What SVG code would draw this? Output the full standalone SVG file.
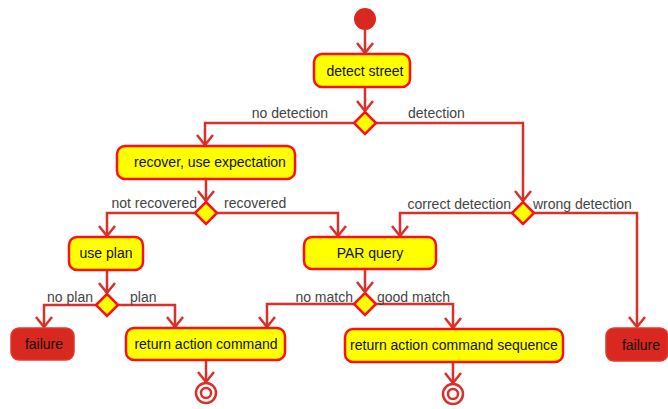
<svg xmlns="http://www.w3.org/2000/svg" width="668" height="409" viewBox="0 0 668 409">
  <defs>
    <marker id="arrow" markerUnits="userSpaceOnUse" markerWidth="24" markerHeight="24" refX="0" refY="0" viewBox="-12 -12 24 24" orient="auto" overflow="visible">
      <path d="M-10,-8 L0,0 L-10,8" fill="none" stroke="#d8302a" stroke-width="2.5" stroke-linejoin="miter"/>
    </marker>
    <style>
      .edge { fill: none; stroke: #d8302a; stroke-width: 2.5; }
      .arr { marker-end: url(#arrow); }
      .action { fill: #ffff00; stroke: #ff1010; stroke-width: 2.5; }
      .fail { fill: #d8281f; stroke: #e43a30; stroke-width: 1.5; }
      .decision { fill: #ffff00; stroke: #ff1010; stroke-width: 2.5; }
      .ntext { font-family: "Liberation Sans", Arial, sans-serif; font-size: 14px; fill: #111; text-anchor: middle; }
      .ltext { font-family: "Liberation Sans", Arial, sans-serif; font-size: 14px; fill: #444; }
      .end-r { text-anchor: end; }
    </style>
  </defs>
  <rect width="668" height="409" fill="#ffffff"/>

  <!-- connectors -->
  <g id="connectors">
    <path class="edge arr" d="M365,30 V53"/>
    <path class="edge arr" d="M365,87 V111"/>
    <path class="edge arr" d="M354,123 H205 V145"/>
    <path class="edge arr" d="M376,123 H523 V201"/>
    <path class="edge arr" d="M206,179 V201"/>
    <path class="edge arr" d="M195,213 H107 V236"/>
    <path class="edge arr" d="M217,213 H338 V236"/>
    <path class="edge arr" d="M512,213 H400 V236"/>
    <path class="edge arr" d="M534,213 H637 V327"/>
    <path class="edge arr" d="M107,270 V293"/>
    <path class="edge arr" d="M96,305 H44 V327"/>
    <path class="edge arr" d="M118,305 H175 V327"/>
    <path class="edge arr" d="M365,269 V292"/>
    <path class="edge arr" d="M354,304 H267 V327"/>
    <path class="edge arr" d="M376,304 H453 V328"/>
    <path class="edge arr" d="M206,360 V382"/>
    <path class="edge arr" d="M453,362 V383"/>
  </g>

  <!-- edge labels -->
  <g id="labels">
    <text class="ltext end-r" x="328" y="118">no detection</text>
    <text class="ltext" x="408" y="118">detection</text>
    <text class="ltext end-r" x="197" y="208">not recovered</text>
    <text class="ltext" x="224" y="208">recovered</text>
    <text class="ltext end-r" x="511" y="209">correct detection</text>
    <text class="ltext" x="533" y="209">wrong detection</text>
    <text class="ltext end-r" x="93" y="302">no plan</text>
    <text class="ltext" x="130" y="302">plan</text>
    <text class="ltext end-r" x="353" y="302">no match</text>
    <text class="ltext" x="377" y="302">good match</text>
  </g>

  <g id="start">
    <circle cx="365" cy="19" r="11" fill="#d8281f"/>
  </g>

  <g id="detect-street">
    <rect class="action" x="314" y="54" width="96" height="33" rx="8"/>
    <text class="ntext" x="365" y="76">detect street</text>
  </g>

  <g id="decision-detection">
    <polygon class="decision" points="365,112 376,123 365,134 354,123"/>
  </g>

  <g id="recover">
    <rect class="action" x="117" y="146" width="178" height="33" rx="8"/>
    <text class="ntext" x="210" y="167">recover, use expectation</text>
  </g>

  <g id="decision-recovered">
    <polygon class="decision" points="206,202 217,213 206,224 195,213"/>
  </g>

  <g id="decision-correct">
    <polygon class="decision" points="523,202 534,213 523,224 512,213"/>
  </g>

  <g id="use-plan">
    <rect class="action" x="69" y="237" width="74" height="33" rx="8"/>
    <text class="ntext" x="106" y="258">use plan</text>
  </g>

  <g id="par-query">
    <rect class="action" x="304" y="237" width="132" height="32" rx="8"/>
    <text class="ntext" x="370" y="258">PAR query</text>
  </g>

  <g id="decision-plan">
    <polygon class="decision" points="107,294 118,305 107,316 96,305"/>
  </g>

  <g id="decision-match">
    <polygon class="decision" points="365,293 376,304 365,315 354,304"/>
  </g>

  <g id="failure-left">
    <rect class="fail" x="11" y="328" width="63" height="32" rx="8"/>
    <text class="ntext" x="44" y="349">failure</text>
  </g>

  <g id="return-command">
    <rect class="action" x="126" y="328" width="159" height="32" rx="8"/>
    <text class="ntext" x="206" y="349">return action command</text>
  </g>

  <g id="return-sequence">
    <rect class="action" x="345" y="329" width="218" height="33" rx="8"/>
    <text class="ntext" x="454" y="350">return action command sequence</text>
  </g>

  <g id="failure-right">
    <rect class="fail" x="606" y="328" width="62" height="33" rx="8"/>
    <text class="ntext" x="641" y="350">failure</text>
  </g>

  <g id="end-left">
    <circle cx="206" cy="393" r="10" fill="#ffffff" stroke="#d8302a" stroke-width="2.5"/>
    <circle cx="206" cy="393" r="5" fill="#ffffff" stroke="#d8302a" stroke-width="2.5"/>
  </g>

  <g id="end-right">
    <circle cx="453" cy="394" r="10" fill="#ffffff" stroke="#d8302a" stroke-width="2.5"/>
    <circle cx="453" cy="394" r="5" fill="#ffffff" stroke="#d8302a" stroke-width="2.5"/>
  </g>
</svg>
